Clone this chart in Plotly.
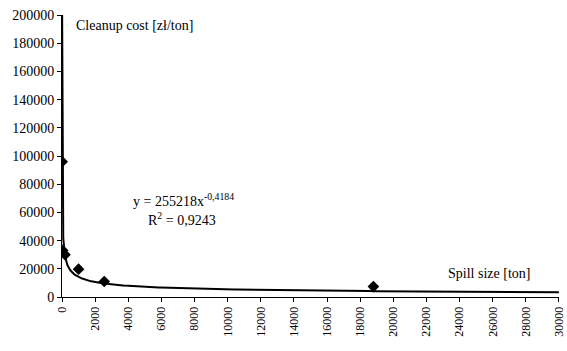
import numpy as np
import plotly.graph_objects as go

# Data points (spill size [ton], cleanup cost [zł/ton])
spill_size = [10, 40, 180, 1000, 2550, 18800]
cleanup_cost = [96000, 33000, 30000, 19700, 11000, 7400]

# Fitted power trendline shown on chart: y = 255218 x^-0.4184
coef_a = 255218
coef_b = -0.4184

x_ticks = list(range(0, 30001, 2000))
y_ticks = list(range(0, 200001, 20000))

font = "Liberation Serif"

xs = np.logspace(np.log10(1.5), np.log10(30000), 600)
ys = coef_a * xs ** coef_b

fig = go.Figure()
fig.add_trace(go.Scatter(x=xs, y=ys, mode="lines",
                         line=dict(color="black", width=2), hoverinfo="skip"))
fig.add_trace(go.Scatter(x=spill_size, y=cleanup_cost, mode="markers",
                         marker=dict(symbol="diamond", size=9, color="black")))

fig.update_layout(
    width=567, height=351,
    margin=dict(l=62, r=8, t=15, b=54, autoexpand=False),
    paper_bgcolor="white", plot_bgcolor="white",
    showlegend=False,
    font=dict(family=font, size=13, color="black"),
    xaxis=dict(range=[0, 30005], tickvals=x_ticks, ticktext=[str(v) for v in x_ticks],
               tickangle=-90, showgrid=False, zeroline=False, showline=True,
               linecolor="black", linewidth=1, ticks="outside", ticklen=4,
               tickcolor="black", tickfont=dict(size=12, family=font),
               automargin=False, ticklabeloverflow="allow"),
    yaxis=dict(range=[0, 200000], tickvals=y_ticks, ticktext=[str(v) for v in y_ticks],
               showgrid=False, zeroline=False, showline=True,
               linecolor="black", linewidth=1, ticks="outside", ticklen=4,
               tickcolor="black", tickfont=dict(size=14, family=font),
               automargin=False, ticklabeloverflow="allow"),
    annotations=[
        dict(x=720, y=192900, xref="x", yref="y", text="Cleanup cost [zł/ton]",
             showarrow=False, xanchor="left", yanchor="middle",
             font=dict(size=14, family=font)),
        dict(x=28380, y=17000, xref="x", yref="y", text="Spill size [ton]",
             showarrow=False, xanchor="right", yanchor="middle",
             font=dict(size=14, family=font)),
        dict(x=7320, y=68800, xref="x", yref="y",
             text="y = 255218x<sup>-0,4184</sup>",
             showarrow=False, xanchor="center", yanchor="middle",
             font=dict(size=14, family=font)),
        dict(x=7260, y=55300, xref="x", yref="y", text="R<sup>2</sup> = 0,9243",
             showarrow=False, xanchor="center", yanchor="middle",
             font=dict(size=14, family=font)),
    ],
)

fig.write_html(
    "out.html",
    config={"displayModeBar": False},
    post_script="document.body.style.margin='0';document.body.style.overflow='hidden';",
)
